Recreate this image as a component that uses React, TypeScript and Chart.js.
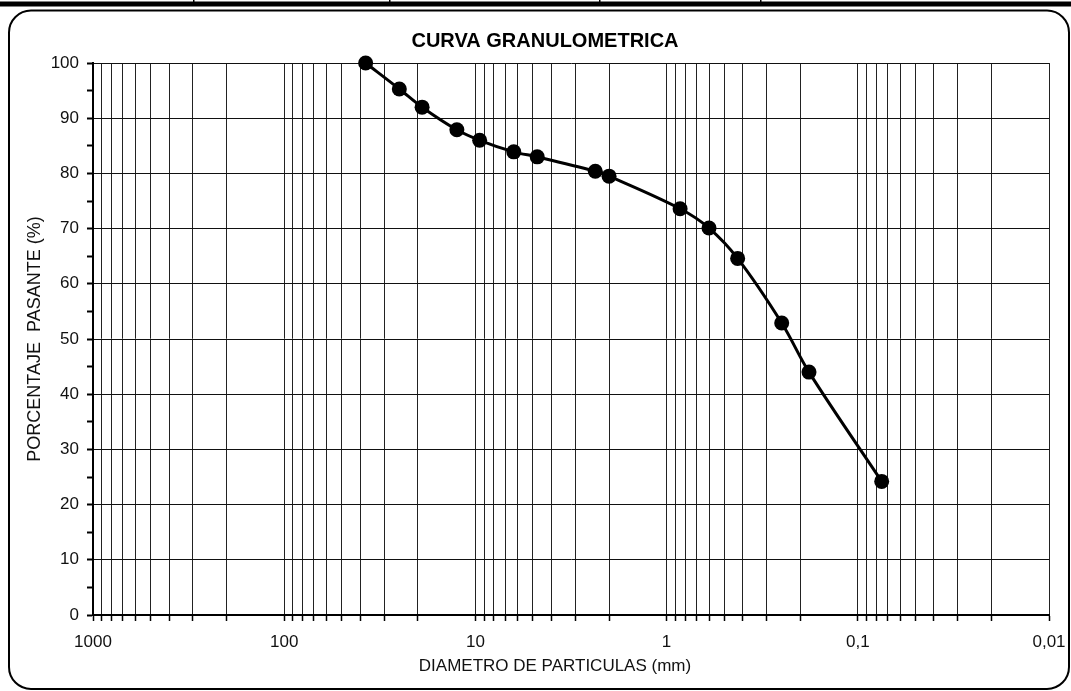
import React, { useEffect, useRef } from 'react';
import { Chart, registerables } from 'chart.js';

Chart.register(...registerables);

// ---- data ----
const DIAMETERS_MM = [37.5, 25, 19, 12.5, 9.5, 6.3, 4.75, 2.36, 2.0, 0.85, 0.6, 0.425, 0.25, 0.18, 0.075];
const PASSING_PCT = [100, 95.3, 92.0, 87.9, 86.0, 83.9, 83.0, 80.4, 79.5, 73.6, 70.1, 64.6, 52.9, 44.0, 24.2];

const X_GRID_DECADES = [0.01, 0.1, 1, 10, 100];
const X_GRID_STEPS = [1, 2, 3, 4, 5, 6, 7, 8, 9];
const X_MIN = 0.01;
const X_MAX = 1000;
const X_LABEL_VALUES = [1000, 100, 10, 1, 0.1, 0.01];
const X_LABEL_TEXT = ['1000', '100', '10', '1', '0,1', '0,01'];

const Y_MIN = 0;
const Y_MAX = 100;
const Y_TICK_STEP = 5;
const Y_LABEL_STEP = 10;

const TITLE = 'CURVA GRANULOMETRICA';
const X_TITLE = 'DIAMETRO DE PARTICULAS (mm)';
const Y_TITLE = 'PORCENTAJE  PASANTE (%)';

const FONT = '"Liberation Sans", Arial, Helvetica, sans-serif';

const xGridValues: number[] = [];
X_GRID_DECADES.forEach((d) => X_GRID_STEPS.forEach((s) => xGridValues.push(s * d)));
xGridValues.push(X_MAX);

const decorPlugin = {
  id: 'decor',
  beforeDraw(chart: any) {
    const ctx = chart.ctx as CanvasRenderingContext2D;
    const W = chart.width;
    ctx.save();
    ctx.fillStyle = '#ffffff';
    ctx.fillRect(0, 0, W, chart.height);
    // top table edge
    ctx.fillStyle = '#000';
    ctx.fillRect(0, 1.5, W, 5);
    [193, 389, 599, 760].forEach((x) => ctx.fillRect(x, 0, 1.5, 2));
    // rounded frame
    const x0 = 9, y0 = 10.5, x1 = 1069, y1 = 689, r = 22;
    ctx.lineWidth = 2;
    ctx.strokeStyle = '#000';
    ctx.beginPath();
    ctx.moveTo(x0 + r, y0);
    ctx.lineTo(x1 - r, y0);
    ctx.arcTo(x1, y0, x1, y0 + r, r);
    ctx.lineTo(x1, y1 - r);
    ctx.arcTo(x1, y1, x1 - r, y1, r);
    ctx.lineTo(x0 + r, y1);
    ctx.arcTo(x0, y1, x0, y1 - r, r);
    ctx.lineTo(x0, y0 + r);
    ctx.arcTo(x0, y0, x0 + r, y0, r);
    ctx.closePath();
    ctx.stroke();
    // chart title
    ctx.fillStyle = '#000';
    ctx.font = `bold 20px ${FONT}`;
    ctx.textAlign = 'center';
    ctx.textBaseline = 'middle';
    ctx.fillText(TITLE, 545, 41);
    // x axis title
    ctx.fillStyle = '#111';
    ctx.font = `17px ${FONT}`;
    ctx.fillText(X_TITLE, 555, 666);
    ctx.restore();
  },
};

export default function App() {
  const ref = useRef<HTMLCanvasElement | null>(null);

  useEffect(() => {
    if (!ref.current) return;
    const points = DIAMETERS_MM.map((d, i) => ({ x: d, y: PASSING_PCT[i] }));
    const chart = new Chart(ref.current, {
      type: 'line',
      data: {
        datasets: [
          {
            data: points,
            borderColor: '#000',
            backgroundColor: '#000',
            borderWidth: 3,
            pointRadius: 7.5,
            pointHoverRadius: 7.5,
            pointBorderWidth: 0,
            pointBackgroundColor: '#000',
            tension: 0.35,
            clip: false as any,
          },
        ],
      },
      options: {
        animation: false,
        responsive: false,
        events: [],
        layout: { padding: { top: 63, right: 22, left: 0, bottom: 0 } },
        plugins: {
          legend: { display: false },
          tooltip: { enabled: false },
          title: { display: false },
        },
        scales: {
          x: {
            type: 'logarithmic',
            min: X_MIN,
            max: X_MAX,
            reverse: true,
            afterBuildTicks: (scale: any) => {
              scale.ticks = xGridValues.map((v) => ({ value: v }));
            },
            afterFit: (scale: any) => {
              scale.height = 76;
            },
            grid: {
              color: '#222',
              lineWidth: 1,
              drawTicks: true,
              tickLength: 6,
              tickColor: '#000',
              tickWidth: 1.5,
            },
            border: { display: true, color: '#000', width: 2 },
            ticks: {
              autoSkip: false,
              maxRotation: 0,
              minRotation: 0,
              padding: 11,
              color: '#111',
              font: { family: FONT, size: 17 },
              callback: (value: any) => {
                const v = Number(value);
                const idx = X_LABEL_VALUES.findIndex((m) => Math.abs(Math.log10(m) - Math.log10(v)) < 1e-6);
                return idx >= 0 ? X_LABEL_TEXT[idx] : '';
              },
            },
            title: { display: false },
          },
          y: {
            type: 'linear',
            min: Y_MIN,
            max: Y_MAX,
            afterFit: (scale: any) => {
              scale.width = 93;
            },
            grid: {
              color: (c: any) => (c.tick && c.tick.value % Y_LABEL_STEP === 0 ? '#111' : 'rgba(0,0,0,0)'),
              lineWidth: 1,
              drawTicks: true,
              tickLength: 6,
              tickColor: '#000',
              tickWidth: 2,
            },
            border: { display: true, color: '#000', width: 2 },
            ticks: {
              stepSize: Y_TICK_STEP,
              padding: 8,
              color: '#111',
              font: { family: FONT, size: 17 },
              callback: (value: any) => (Number(value) % Y_LABEL_STEP === 0 ? String(value) : ''),
            },
            title: {
              display: true,
              text: Y_TITLE,
              color: '#111',
              font: { family: FONT, size: 18 },
              padding: { top: 24, bottom: 0 },
            },
          },
        },
      },
      plugins: [decorPlugin],
    });
    return () => chart.destroy();
  }, []);

  return (
    <div style={{ position: 'absolute', left: 0, top: 0, width: 1071, height: 691 }}>
      <canvas ref={ref} width={1071} height={691} style={{ width: 1071, height: 691, display: 'block' }} />
    </div>
  );
}
